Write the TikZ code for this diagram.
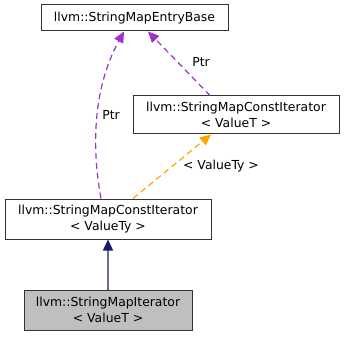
\documentclass[tikz,border=0pt]{standalone}
\usepackage{fontspec}
\setmainfont{DejaVu Sans}
\usetikzlibrary{arrows.meta}
\definecolor{edgepurple}{HTML}{9A32CD}
\definecolor{edgeorange}{HTML}{FFA500}
\definecolor{edgenavy}{HTML}{191970}
\definecolor{boxgray}{HTML}{BFBFBF}
\begin{document}
\begin{tikzpicture}[x=1pt,y=1pt,
  font=\fontsize{12.4}{16}\selectfont,
  cls/.style={draw=black!80, line width=1pt, fill=white, align=center,
    inner sep=0pt},
  usage/.style={edgepurple, dashed, dash pattern=on 6pt off 4pt, line width=1.2pt,
    -{Triangle[length=11pt,width=10pt]}},
  tmpl/.style={edgeorange, dashed, dash pattern=on 6pt off 4pt, line width=1.2pt,
    -{Triangle[length=11pt,width=10pt]}},
  inherit/.style={draw=edgenavy!65, line width=1.2pt,
    -{Triangle[length=11pt,width=10pt,color=edgenavy,fill=edgenavy]}},
  lbl/.style={inner sep=0pt}]
\useasboundingbox (0,0) rectangle (344,-336);

\node[cls, minimum width=187pt, minimum height=26pt] (base) at (134.5,-18)
  {llvm::StringMapEntryBase};
\node[cls, minimum width=206pt, minimum height=38pt] (citT) at (236,-115)
  {llvm::StringMapConstIterator\\{<} ValueT {>}};
\node[cls, minimum width=206pt, minimum height=40pt] (citTy) at (108,-219)
  {llvm::StringMapConstIterator\\{<} ValueTy {>}};
\node[cls, fill=boxgray, minimum width=168pt, minimum height=40pt] (iter) at (108,-310)
  {llvm::StringMapIterator\\{<} ValueT {>}};

\draw[usage] ([xshift=-7pt]citTy.north) .. controls (92,-150) and (92,-90) .. ([xshift=-10.5pt]base.south);
\draw[usage] ([xshift=-26pt]citT.north) -- ([xshift=13.5pt]base.south);
\draw[tmpl] ([xshift=25pt]citTy.north) -- ([xshift=-25pt]citT.south);
\draw[inherit] (iter.north) -- (citTy.south);

\node[lbl] (p1) at (111,-115) {Ptr};
\node[lbl] (p2) at (201,-62) {Ptr};
\node[lbl] (vt) at (221,-166) {{<} ValueTy {>}};
\end{tikzpicture}
\end{document}
